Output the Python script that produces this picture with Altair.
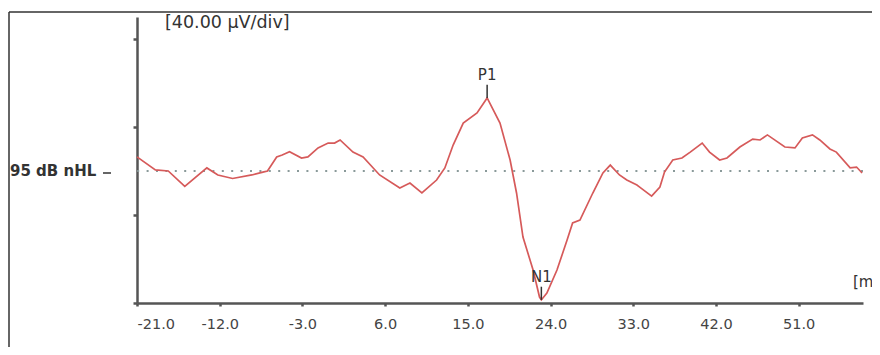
import altair as alt
import pandas as pd

# waveform: latency (ms) and amplitude (µV)
time_ms = [-21.0, -19.0, -17.6, -15.8, -13.4, -12.2, -10.6, -8.5, -7.3, -6.8,
           -5.8, -5.2, -4.4, -3.1, -2.4, -1.3, -0.2, 0.5, 1.1, 2.5,
           3.6, 5.4, 7.6, 8.7, 10.0, 11.6, 12.5, 13.4, 14.5, 16.0,
           17.1, 18.5, 19.6, 20.3, 21.0, 22.1, 22.8, 23.0, 23.6, 24.7,
           25.8, 26.4, 27.2, 28.6, 29.7, 30.5, 31.5, 32.3, 33.4, 33.7,
           35.0, 35.9, 36.4, 37.3, 38.3, 39.2, 40.5, 41.3, 42.4, 43.2,
           44.6, 46.0, 46.8, 47.6, 49.5, 50.6, 51.4, 52.5, 53.3, 54.4,
           55.1, 56.6, 57.3, 57.9]
amp_uv = [6.4, 0.5, 0.0, -7.0, 1.4, -1.8, -3.4, -1.8, -0.5, 0.0,
          6.4, 7.3, 8.8, 5.9, 6.4, 10.5, 12.7, 12.7, 14.1, 8.6,
          6.4, -1.8, -7.7, -5.5, -10.0, -4.1, 1.4, 11.8, 21.8, 26.4,
          33.2, 21.8, 5.0, -10.0, -30.0, -45.0, -57.3, -58.6, -55.5, -45.0,
          -31.4, -23.6, -22.3, -10.0, -0.9, 2.7, -1.8, -4.1, -6.4, -7.3,
          -11.4, -7.3, -0.5, 5.0, 5.9, 8.6, 12.7, 8.6, 5.0, 5.9,
          10.9, 14.5, 14.1, 16.4, 10.9, 10.5, 15.0, 16.4, 14.1, 10.0,
          8.6, 1.4, 1.8, -0.9]

peak_names = ["P1", "N1"]
peak_time = [17.1, 23.0]
peak_amp = [33.2, -58.6]

x_ticks = [-21, -12, -3, 6, 15, 24, 33, 42, 51]
y_ticks = [-60, -20, 20, 60]

wave = pd.DataFrame({"t": time_ms, "v": amp_uv})
peaks = pd.DataFrame({"name": peak_names, "t": peak_time, "v": peak_amp})
one = pd.DataFrame({"a": [0]})

AX = "#555555"
FONT = "DejaVu Sans"
xscale = alt.Scale(domain=[-21, 58], nice=False, zero=False)
yscale = alt.Scale(domain=[-60, 70], nice=False, zero=False)

xaxis = alt.Axis(values=x_ticks, title=None, grid=False,
                 labelExpr="replace(format(datum.value, '.1f'), '\u2212', '-')",
                 labelFont=FONT, labelFontSize=14.5, labelColor="#444444",
                 labelPadding=11, tickSize=3, tickWidth=2.5, tickColor=AX,
                 domainColor=AX, domainWidth=2.5)
yaxis = alt.Axis(values=y_ticks, title=None, grid=False, labels=False,
                 tickSize=4, tickWidth=2.5, tickColor=AX,
                 domainColor=AX, domainWidth=2.5)

baseline = alt.Chart(one).mark_rule(color="#8a9a9a", strokeWidth=2,
                                    strokeDash=[2, 7.4]).encode(
    y=alt.datum(0, scale=yscale, axis=yaxis),
)

line = alt.Chart(wave).mark_line(color="#d65a5a", strokeWidth=1.7).encode(
    x=alt.X("t:Q", scale=xscale, axis=xaxis),
    y=alt.Y("v:Q", scale=yscale, axis=yaxis),
)

marker_base = alt.Chart(peaks).transform_calculate(top="datum.v + 6")
markers = marker_base.mark_rule(color="#333333", strokeWidth=1.5).encode(
    x="t:Q", y="v:Q", y2="top:Q")
marker_text = marker_base.mark_text(font=FONT, fontSize=15,
                                    color="#333333", baseline="bottom",
                                    dy=-2).encode(
    x="t:Q", y="top:Q", text="name:N")

scale_label = alt.Chart(one).mark_text(
    text="[40.00 \u00b5V/div]", font=FONT, fontSize=17.5,
    color="#333333", align="left", baseline="middle").encode(
    x=alt.value(28), y=alt.value(6))

ms_label = alt.Chart(one).mark_text(
    text="[ms]", font=FONT, fontSize=15, color="#333333",
    align="left", baseline="middle").encode(x=alt.value(716), y=alt.value(265))

level_label = alt.Chart(one).mark_text(
    text="95 dB nHL", font=FONT, fontSize=15, fontWeight="bold",
    color="#333333", align="left", baseline="middle").encode(
    x=alt.value(-127), y=alt.value(154))
level_dash = alt.Chart(one).mark_rule(color="#333333", strokeWidth=1.5).encode(
    x=alt.value(-34), x2=alt.value(-26), y=alt.value(156))

border_left = alt.Chart(one).mark_rule(color="#333333", strokeWidth=1.5).encode(
    x=alt.value(-128), y=alt.value(-5), y2=alt.value(400))
border_top = alt.Chart(one).mark_rule(color="#333333", strokeWidth=1.5).encode(
    x=alt.value(-128), x2=alt.value(800), y=alt.value(-5))

chart = alt.layer(
    border_left, border_top, baseline, line, markers, marker_text,
    scale_label, ms_label, level_label, level_dash,
).properties(
    width=726, height=286,
    autosize=alt.AutoSizeParams(type="none"),
    padding={"left": 129, "top": 9, "right": 9, "bottom": 44},
    background="white",
).configure_view(stroke=None)

chart.save("out.html", embed_options={"renderer": "svg", "actions": False})
